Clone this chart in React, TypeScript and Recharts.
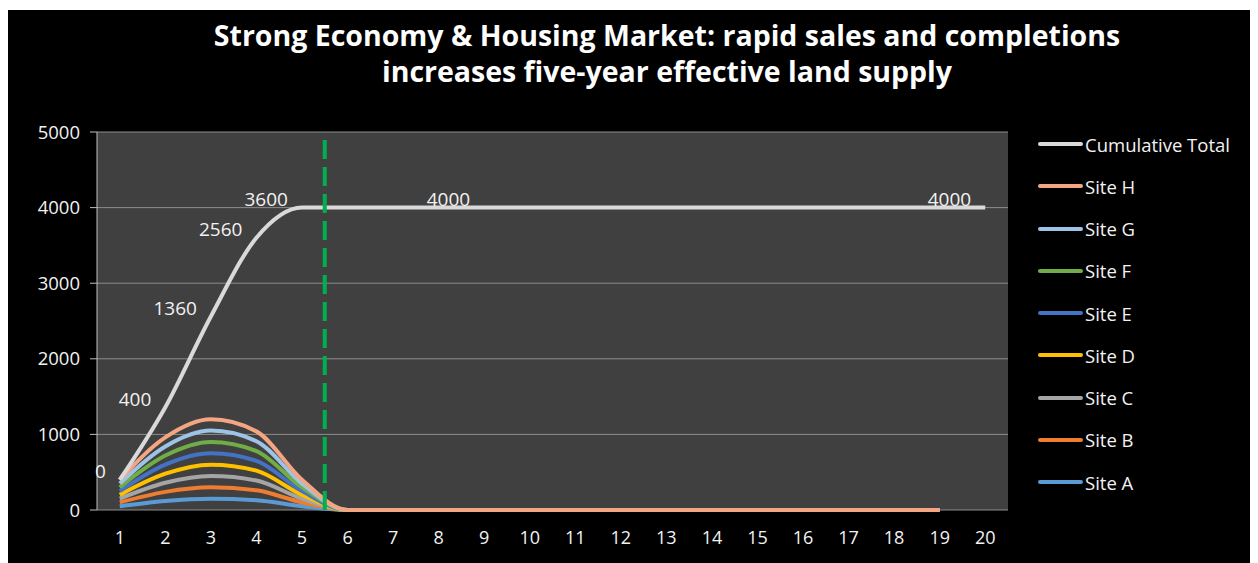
import {
  LineChart,
  Line,
  XAxis,
  YAxis,
  CartesianGrid,
  ReferenceLine,
  LabelList,
} from "recharts";

const years = [1, 2, 3, 4, 5, 6, 7, 8, 9, 10, 11, 12, 13, 14, 15, 16, 17, 18, 19, 20];
const yTicks = [0, 1000, 2000, 3000, 4000, 5000];
const boundaryTicks = [
  0.5, 1.5, 2.5, 3.5, 4.5, 5.5, 6.5, 7.5, 8.5, 9.5, 10.5, 11.5, 12.5, 13.5, 14.5,
  15.5, 16.5, 17.5, 18.5, 19.5, 20.5,
];

const cumulativeTotal = [
  400, 1360, 2560, 3600, 4000, 4000, 4000, 4000, 4000, 4000, 4000, 4000, 4000, 4000,
  4000, 4000, 4000, 4000, 4000, 4000,
];
const cumulativeLabels = [
  "0", "400", "1360", "2560", "3600", "", "", "", "4000", "", "", "", "", "", "", "",
  "", "", "", "4000",
];

// completions per site per year (years 1-19), drawn stacked like the excel chart
const siteA = [50, 120, 150, 130, 50, 0, 0, 0, 0, 0, 0, 0, 0, 0, 0, 0, 0, 0, 0];
const siteB = [50, 120, 150, 130, 50, 0, 0, 0, 0, 0, 0, 0, 0, 0, 0, 0, 0, 0, 0];
const siteC = [50, 120, 150, 130, 50, 0, 0, 0, 0, 0, 0, 0, 0, 0, 0, 0, 0, 0, 0];
const siteD = [50, 120, 150, 130, 50, 0, 0, 0, 0, 0, 0, 0, 0, 0, 0, 0, 0, 0, 0];
const siteE = [50, 120, 150, 130, 50, 0, 0, 0, 0, 0, 0, 0, 0, 0, 0, 0, 0, 0, 0];
const siteF = [50, 120, 150, 130, 50, 0, 0, 0, 0, 0, 0, 0, 0, 0, 0, 0, 0, 0, 0];
const siteG = [50, 120, 150, 130, 50, 0, 0, 0, 0, 0, 0, 0, 0, 0, 0, 0, 0, 0, 0];
const siteH = [50, 120, 150, 130, 50, 0, 0, 0, 0, 0, 0, 0, 0, 0, 0, 0, 0, 0, 0];

const sites = [
  { key: "siteA", name: "Site A", values: siteA, color: "#5b9bd5" },
  { key: "siteB", name: "Site B", values: siteB, color: "#ed7d31" },
  { key: "siteC", name: "Site C", values: siteC, color: "#a5a5a5" },
  { key: "siteD", name: "Site D", values: siteD, color: "#ffc000" },
  { key: "siteE", name: "Site E", values: siteE, color: "#4472c4" },
  { key: "siteF", name: "Site F", values: siteF, color: "#70ad47" },
  { key: "siteG", name: "Site G", values: siteG, color: "#9dc3e6" },
  { key: "siteH", name: "Site H", values: siteH, color: "#f4a582" },
];
const cumulativeColor = "#d9d9d9";

const data = years.map((year, i) => {
  const row: Record<string, number | undefined> = { year, cum: cumulativeTotal[i] };
  let running = 0;
  sites.forEach((s) => {
    if (i < s.values.length) {
      running += s.values[i];
      row[s.key] = running;
    }
  });
  return row;
});

const legendItems = [
  { name: "Cumulative Total", color: cumulativeColor },
  ...sites.slice().reverse().map((s) => ({ name: s.name, color: s.color })),
];

const font = "'Open Sans', sans-serif";

const CumLabel = (props: any) => {
  const { x, y, index } = props;
  const text = cumulativeLabels[index];
  if (!text) return null;
  return (
    <text x={x - 14} y={y - 8} dy="0.35em" textAnchor="end" fill="#f2f2f2" fontSize={19} fontFamily={font}>
      {text}
    </text>
  );
};

export default function App() {
  return (
    <div
      style={{
        position: "relative",
        width: 1250,
        height: 555,
        marginTop: 2,
        marginLeft: -1,
        background: "#000",
        fontFamily: font,
      }}
    >
      <div
        style={{
          position: "absolute",
          left: 0,
          width: 1320,
          top: 7,
          textAlign: "center",
          color: "#fff",
          fontWeight: 700,
          fontSize: 28.5,
          lineHeight: "36px",
        }}
      >
        Strong Economy &amp; Housing Market: rapid sales and completions
        <br />
        increases five-year effective land supply
      </div>
      <LineChart
        width={1250}
        height={545}
        data={data}
        margin={{ top: 122, right: 249, left: 0, bottom: 0 }}
        style={{ position: "absolute", left: 0, top: 0 }}
      >
        <CartesianGrid vertical={false} fill="#404040" stroke="#8c8c8c" strokeWidth={1} />
        <XAxis
          xAxisId="marks"
          type="number"
          dataKey="year"
          domain={[0.5, 20.5]}
          ticks={boundaryTicks}
          tick={false}
          height={0}
          tickSize={6}
          stroke="#bfbfbf"
        />
        <XAxis
          type="number"
          dataKey="year"
          domain={[0.5, 20.5]}
          ticks={years}
          interval={0}
          height={45}
          axisLine={false}
          tickLine={false}
          tickSize={0}
          tickMargin={21}
          tick={{ fill: "#f2f2f2", fontSize: 18, fontFamily: font }}
        />
        <YAxis
          domain={[0, 5000]}
          ticks={yTicks}
          width={90}
          tickSize={7}
          tickMargin={10}
          stroke="#bfbfbf"
          tick={{ fill: "#f2f2f2", fontSize: 18.5, fontFamily: font }}
        />
        {sites.map((s) => (
          <Line
            key={s.key}
            type="monotone"
            dataKey={s.key}
            name={s.name}
            stroke={s.color}
            strokeWidth={4}
            dot={false}
            activeDot={false}
            isAnimationActive={false}
          />
        ))}
        <Line
          type="monotone"
          dataKey="cum"
          name="Cumulative Total"
          stroke={cumulativeColor}
          strokeWidth={4}
          dot={false}
          activeDot={false}
          isAnimationActive={false}
        >
          <LabelList dataKey="cum" content={CumLabel} />
        </Line>
        <ReferenceLine
          x={5.5}
          xAxisId="marks"
          stroke="#00b050"
          strokeWidth={4}
          strokeDasharray="19 8"
        />
      </LineChart>
      <div style={{ position: "absolute", left: 1031, top: 113 }}>
        {legendItems.map((item) => (
          <div key={item.name} style={{ display: "flex", alignItems: "center", height: 42.25 }}>
            <div style={{ width: 45, height: 4, borderRadius: 2, background: item.color }} />
            <span style={{ color: "#f2f2f2", fontSize: 18.5, marginLeft: 2, whiteSpace: "nowrap" }}>
              {item.name}
            </span>
          </div>
        ))}
      </div>
    </div>
  );
}
